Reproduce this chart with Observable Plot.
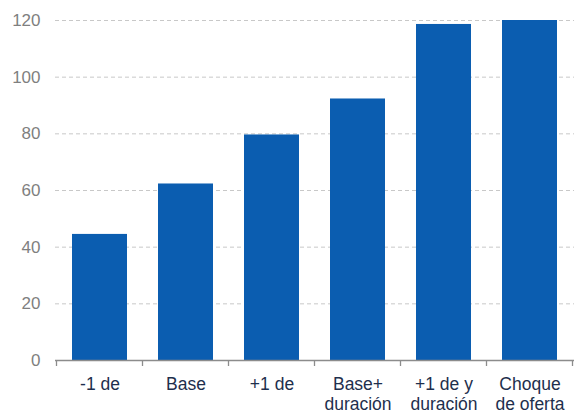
<!DOCTYPE html>
<html>
<head>
<meta charset="utf-8">
<script src="https://cdn.jsdelivr.net/npm/d3@7"></script>
<script src="https://cdn.jsdelivr.net/npm/@observablehq/plot@0.6"></script>
<style>
  html, body { margin: 0; padding: 0; background: #fff; }
  svg { display: block; }
</style>
</head>
<body>
<div id="chart"></div>
<script>
const categories = ["-1 de", "Base", "+1 de", "Base+\nduración", "+1 de y\nduración", "Choque\nde oferta"];
const values = [44.5, 62.3, 79.6, 92.3, 118.6, 120];
const yTicks = [0, 20, 40, 60, 80, 100, 120];

const data = categories.map((c, i) => ({category: c, value: values[i]}));

// band-boundary tick marks on the x axis, drawn from the library's band scale
function boundaryTicks(index, scales, values, dimensions) {
  const x = scales.x, y = scales.y;
  const step = typeof x.step === "function" ? x.step() : (x.step ?? x.bandwidth / (1 - 0.36));
  const bw = typeof x.bandwidth === "function" ? x.bandwidth() : x.bandwidth;
  const y0 = y(0);
  const g = d3.create("svg:g");
  const xs = categories.map(c => x(c) + bw / 2 - step / 2);
  xs.push(x(categories[categories.length - 1]) + bw / 2 + step / 2);
  for (const px of xs) {
    g.append("line")
      .attr("x1", px).attr("x2", px)
      .attr("y1", y0).attr("y2", y0 + 6)
      .attr("stroke", "#8c8c8c").attr("stroke-width", 1.3);
  }
  return g.node();
}

const chart = Plot.plot({
  width: 574,
  height: 413,
  marginLeft: 55,
  marginRight: 0,
  marginTop: 20,
  marginBottom: 53,
  style: {fontFamily: "'Liberation Sans', Arial, sans-serif", background: "#fff"},
  x: {domain: categories, paddingInner: 0.36, paddingOuter: 0.18, label: null},
  y: {domain: [0, 120], label: null},
  marks: [
    Plot.gridY(yTicks, {stroke: "#c8c8c8", strokeOpacity: 1, strokeDasharray: "4,3", strokeWidth: 1}),
    Plot.barY(data, {x: "category", y: "value", fill: "#0b5db0"}),
    Plot.ruleY([0], {stroke: "#8c8c8c", strokeWidth: 1.5}),
    boundaryTicks,
    Plot.axisY(yTicks, {tickSize: 0, tickPadding: 15, fontSize: 17, fill: "#7f7f7f", label: null}),
    Plot.axisX({tickSize: 0, tickPadding: 16, fontSize: 17.5, lineHeight: 1.12, fill: "#1e2f4d", label: null})
  ]
});
document.getElementById("chart").appendChild(chart);
</script>
</body>
</html>
